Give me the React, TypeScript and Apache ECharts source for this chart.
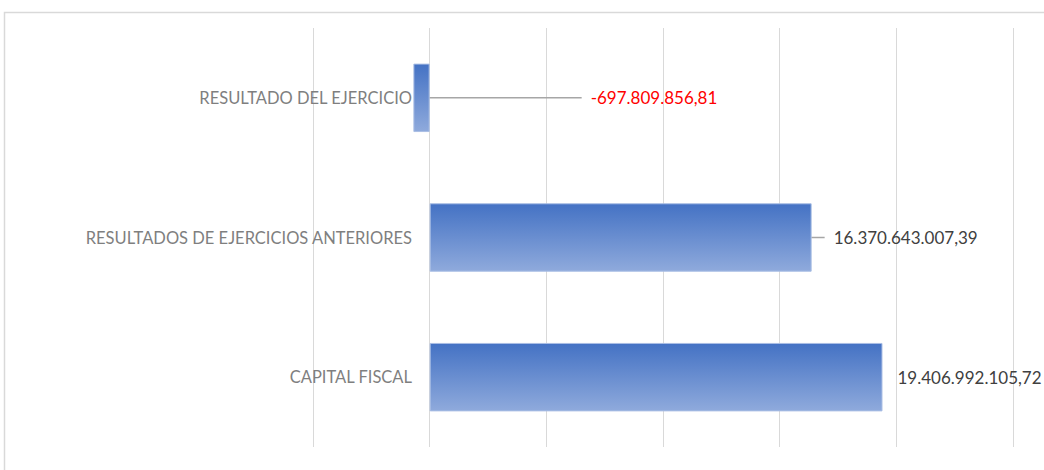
import React, { useEffect, useRef } from "react";
import * as echarts from "echarts";

const categories = ["CAPITAL FISCAL", "RESULTADOS DE EJERCICIOS ANTERIORES", "RESULTADO DEL EJERCICIO"];
const values = [19406992105.72, 16370643007.39, -697809856.81];
const labelColors = ["#404040", "#404040", "#FF0000"];
const showLeader = [false, true, true];
const axisMin = -5000000000;
const axisMax = 25000000000;
const axisInterval = 5000000000;

function fmt(v: number): string {
  const neg = v < 0;
  const abs = Math.abs(v);
  const intPart = Math.floor(abs);
  const dec = Math.round((abs - intPart) * 100);
  const s = String(intPart).replace(/\B(?=(\d{3})+(?!\d))/g, ".");
  return (neg ? "-" : "") + s + "," + String(dec).padStart(2, "0");
}

export default function App() {
  const ref = useRef<HTMLDivElement>(null);
  useEffect(() => {
    if (!ref.current) return;
    const chart = echarts.init(ref.current, null, { renderer: "svg" });
    chart.setOption({
      animation: false,
      backgroundColor: "#ffffff",
      graphic: [
        {
          type: "rect",
          shape: { x: 4.5, y: 12.5, width: 1100, height: 600 },
          style: { fill: "none", stroke: "#D9D9D9", lineWidth: 1.5 },
          silent: true,
        },
      ],
      grid: { left: 313, right: 31, top: 28, bottom: 23, containLabel: false, outerBoundsMode: "none" },
      xAxis: {
        type: "value",
        min: axisMin,
        max: axisMax,
        interval: axisInterval,
        axisLabel: { show: false },
        axisLine: { show: false },
        axisTick: { show: false },
        splitLine: { show: true, lineStyle: { color: "#D9D9D9", width: 1 } },
      },
      yAxis: {
        type: "category",
        data: categories,
        axisLine: { show: false, onZero: false },
        axisTick: { show: false },
        axisLabel: {
          color: "#7F7F7F",
          fontFamily: "Lato",
          fontSize: 16.5,
          margin: -99,
          align: "right",
        },
      },
      series: [
        {
          type: "bar",
          barCategoryGap: "51%",
          data: values.map((v, i) => ({
            value: v,
            label: { color: labelColors[i] },
            labelLine: { show: showLeader[i] },
          })),
          itemStyle: {
            color: new echarts.graphic.LinearGradient(0, 0, 0, 1, [
              { offset: 0, color: "#4472C4" },
              { offset: 1, color: "#8FAADC" },
            ]),
            borderColor: "#A9BEE4",
            borderWidth: 1,
          },
          label: {
            show: true,
            position: "right",
            distance: 15,
            fontFamily: "Lato",
            fontSize: 17,
            formatter: (p: any) =>
              showLeader[p.dataIndex] ? "{s|}{v|" + fmt(p.value) + "}" : "{v|" + fmt(p.value) + "}",
            rich: {
              s: { width: 9 },
              v: { fontFamily: "Lato", fontSize: 17 },
            },
          },
          labelLine: { show: true, lineStyle: { color: "#A6A6A6", width: 1.5 } },
          labelLayout: (p: any) => {
            if (p.dataIndex === 2) return { dx: 137 };
            if (p.dataIndex === 1) return { dx: -2 };
            return {};
          },
        },
      ],
    });
    return () => chart.dispose();
  }, []);
  return <div ref={ref} style={{ position: "fixed", left: 0, top: 0, width: 1044, height: 470 }} />;
}
